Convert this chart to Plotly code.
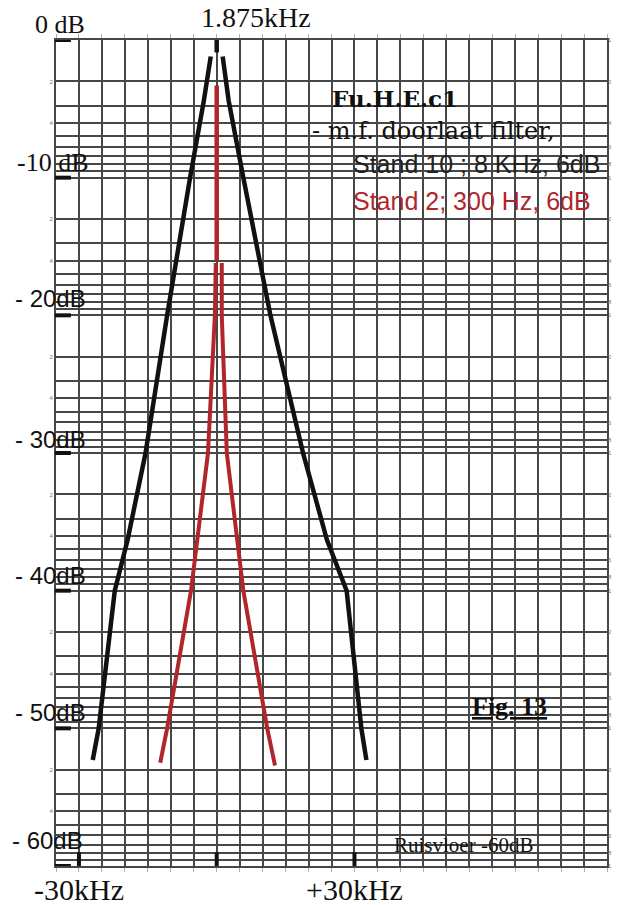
import numpy as np
import plotly.graph_objects as go

# ---------------- data ----------------
# x = frequency offset from 1.875 kHz centre (kHz), y = attenuation (dB)
black_left_khz = [-1.3, -2.8, -5.8, -10.8, -15.5, -19.4, -22.2, -25.7, -27.0]
black_left_db = [-1.2, -4.4, -10.0, -20.0, -30.0, -36.3, -40.0, -50.0, -52.3]
black_right_khz = [1.3, 2.6, 5.8, 11.7, 18.8, 21.6, 24.0, 28.3, 31.5, 32.6]
black_right_db = [-1.2, -4.4, -10.0, -20.0, -30.0, -33.4, -36.3, -40.0, -50.0, -52.3]

red_centre_khz = [0.0, 0.0]
red_centre_db = [-3.3, -16.0]
red_left_khz = [-0.2, -0.4, -1.9, -5.6, -10.8, -12.3]
red_left_db = [-16.2, -20.0, -30.0, -40.0, -50.0, -52.5]
red_right_khz = [1.1, 1.1, 2.2, 5.8, 11.0, 12.7]
red_right_db = [-16.2, -20.0, -30.0, -40.0, -50.0, -52.7]

centre_marker_db = [0.0, -0.9]
bottom_marker_khz = [-30, 0, 30]
decades_db = [0, -10, -20, -30, -40, -50, -60]
db_labels = ["0 dB", "-10 dB", "- 20dB", "- 30dB", "- 40dB", "- 50dB", "- 60dB"]
khz_labels = ["-30kHz", "+30kHz"]
khz_label_pos = [-30, 30]
x_grid = list(range(-35, 86, 5))
paper_digits = [1, 2, 3, 4, 5, 6, 7, 8, 9]

# ---------------- layout geometry ----------------
W, H = 622, 905
L, R, T, B = 56, 10, 40, 39
XMIN, XMAX = -35, 85
YMIN, YMAX = -60, 0

def px(p):
    return (p - L) / (W - L - R)

def py(p):
    return (H - B - p) / (H - T - B)

BLACK = "#111111"
RED = "#b0262b"
GRID = "#474747"

# semilog paper horizontal lines
y_grid, y_text_left, y_text_right = [], [], []
for d in range(6):
    for k in paper_digits:
        y_grid.append(-10 * (d + np.log10(k)))
        y_text_right.append(str(k) if k in (1, 2, 4, 6, 8) else "")
        y_text_left.append(str(k) if k in (2, 4) else "")
y_grid.append(-60.0)
y_text_right.append("1")
y_text_left.append("")

fig = go.Figure()

# black: Stand 10
fig.add_trace(go.Scatter(x=black_left_khz, y=black_left_db, mode="lines",
                         line=dict(color=BLACK, width=4.5), showlegend=False))
fig.add_trace(go.Scatter(x=black_right_khz, y=black_right_db, mode="lines",
                         line=dict(color=BLACK, width=4.5), showlegend=False))
fig.add_trace(go.Scatter(x=[0, 0], y=centre_marker_db, mode="lines",
                         line=dict(color=BLACK, width=4.5), showlegend=False))
# red: Stand 2
fig.add_trace(go.Scatter(x=red_centre_khz, y=red_centre_db, mode="lines",
                         line=dict(color=RED, width=4.5), showlegend=False))
fig.add_trace(go.Scatter(x=red_left_khz, y=red_left_db, mode="lines",
                         line=dict(color=RED, width=4), showlegend=False))
fig.add_trace(go.Scatter(x=red_right_khz, y=red_right_db, mode="lines",
                         line=dict(color=RED, width=4), showlegend=False))
# invisible trace for the right-hand axis
fig.add_trace(go.Scatter(x=[XMIN], y=[YMIN], yaxis="y2", mode="markers",
                         marker=dict(opacity=0), showlegend=False, hoverinfo="skip"))

shapes = []
# thick bottom markers at -30, 0, +30 kHz
for xk in bottom_marker_khz:
    shapes.append(dict(type="line", xref="x", yref="y", x0=xk, x1=xk, y0=-60, y1=-59.0,
                       line=dict(color=BLACK, width=4)))
# thick short dashes at decade lines on the left
for dv in decades_db:
    shapes.append(dict(type="line", xref="paper", yref="y", x0=px(55), x1=px(71), y0=dv, y1=dv,
                       line=dict(color=BLACK, width=4)))
fig.update_layout(shapes=shapes)

ann = []
label_y = [25, 162, 298, 440, 575, 712, 840]
label_x = [33, 15, 13, 13, 13, 13, 10]
for i, t in enumerate(db_labels):
    serif = i < 2
    ann.append(dict(text=t, xref="paper", yref="paper", x=px(label_x[i]), y=py(label_y[i]),
                    xanchor="left", yanchor="middle", showarrow=False,
                    font=dict(family="Liberation Serif" if serif else "Liberation Sans",
                              size=26 if serif else 24, color=BLACK)))
for t, xv in zip(khz_labels, khz_label_pos):
    ann.append(dict(text=t, xref="x", yref="paper", x=xv, y=py(889),
                    xanchor="center", yanchor="middle", showarrow=False,
                    font=dict(family="Liberation Serif", size=30, color=BLACK)))
ann.append(dict(text="1.875kHz", xref="paper", yref="paper", x=px(258), y=py(18),
                xanchor="center", yanchor="middle", showarrow=False,
                font=dict(family="Liberation Serif", size=28, color=BLACK)))
ann.append(dict(text="<b>Fu.H.E.c1</b>", xref="paper", yref="paper", x=px(332), y=py(99),
                xanchor="left", yanchor="middle", showarrow=False,
                font=dict(family="DejaVu Serif", size=23, color=BLACK)))
ann.append(dict(text="- m.f. doorlaat filter,", xref="paper", yref="paper", x=px(312), y=py(131),
                xanchor="left", yanchor="middle", showarrow=False,
                font=dict(family="DejaVu Serif", size=24, color=BLACK)))
ann.append(dict(text="Stand 10 ; 8 KHz, 6dB", xref="paper", yref="paper", x=px(354), y=py(164),
                xanchor="left", yanchor="middle", showarrow=False,
                font=dict(family="Liberation Sans", size=25, color="#222222")))
ann.append(dict(text="Stand 2; 300 Hz, 6dB", xref="paper", yref="paper", x=px(354), y=py(201),
                xanchor="left", yanchor="middle", showarrow=False,
                font=dict(family="Liberation Sans", size=25, color=RED)))
ann.append(dict(text="<b><u>Fig. 13</u></b>", xref="paper", yref="paper", x=px(474), y=py(706),
                xanchor="left", yanchor="middle", showarrow=False,
                font=dict(family="Liberation Serif", size=26, color=BLACK)))
ann.append(dict(text="Ruisvloer -60dB", xref="paper", yref="paper", x=px(395), y=py(845),
                xanchor="left", yanchor="middle", showarrow=False,
                font=dict(family="Liberation Serif", size=21, color=BLACK)))

fig.update_layout(
    width=W, height=H,
    margin=dict(l=L, r=R, t=T, b=B, pad=0),
    paper_bgcolor="white", plot_bgcolor="white",
    annotations=ann,
    xaxis=dict(range=[XMIN, XMAX], tickvals=x_grid, showticklabels=False,
               showgrid=True, gridcolor=GRID, gridwidth=1.8, zeroline=False,
               ticks="outside", ticklen=4, tickcolor="#b0b0b0",
               showline=True, linecolor=GRID, linewidth=1.8, mirror="ticks"),
    yaxis=dict(range=[YMIN, YMAX], tickvals=y_grid, ticktext=y_text_left,
               tickfont=dict(size=6, color="#777777", family="Liberation Sans"),
               showgrid=True, gridcolor=GRID, gridwidth=1.6, zeroline=False,
               ticks="", showline=True, linecolor=GRID, linewidth=1.8, mirror=True),
    yaxis2=dict(range=[YMIN, YMAX], overlaying="y", side="right", tickvals=y_grid,
                ticktext=y_text_right, tickfont=dict(size=6, color="#777777", family="Liberation Sans"),
                showgrid=False, zeroline=False, ticks=""),
)

fig.write_html("out.html")
